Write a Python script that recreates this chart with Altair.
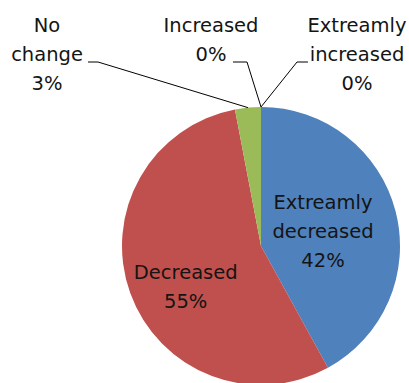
import math
import altair as alt
import numpy as np
import pandas as pd

# ---- data ----
categories = ["Extreamly decreased", "Decreased", "No change", "Increased", "Extreamly increased"]
values = [42, 55, 3, 0, 0]
name_lines = [["Extreamly", "decreased"], ["Decreased"], ["No", "change"], ["Increased"], ["Extreamly", "increased"]]
colors = ["#4F81BD", "#C0504D", "#9BBB59", "#8064A2", "#4BACC6"]

# ---- layout ----
CX, CY, R = 261, 246, 139
FONT = "DejaVu Sans"
FS = 19.5
LH = 29
TEXT_COLOR = "#141414"
inner_layout = {"Extreamly decreased": dict(r=64, dy=-27), "Decreased": dict(r=80, dy=0)}
outer_layout = {
    "No change": dict(lx=47, ly=26, tx=88, ex=98, ey=62),
    "Increased": dict(lx=211, ly=26, tx=233, ex=247, ey=62),
    "Extreamly increased": dict(lx=357, ly=26, tx=308, ex=297, ey=62),
}

total = sum(values)
ends = np.cumsum(values)
starts = ends - np.array(values)
mids = (starts + ends) / 2
labels = ["\n".join(n + [f"{v}%"]) for n, v in zip(name_lines, values)]

df = pd.DataFrame({
    "category": categories, "value": values,
    "start": starts, "end": ends, "mid": mids, "label": labels,
})

theta_scale = alt.Scale(domain=[0, total], range=[0, 2 * math.pi])
color_scale = alt.Scale(domain=categories, range=colors)

base = alt.Chart(df)
pie = base.mark_arc(outerRadius=R).encode(
    theta=alt.Theta("start:Q", scale=theta_scale),
    theta2="end:Q",
    color=alt.Color("category:N", scale=color_scale, legend=None),
    x=alt.value(CX), y=alt.value(CY),
)

layers = [pie]
for cat, lay in inner_layout.items():
    layers.append(
        base.transform_filter(alt.datum.category == cat)
        .mark_text(radius=lay["r"], dy=lay["dy"], font=FONT, fontSize=FS, lineBreak="\n",
                   lineHeight=LH, color=TEXT_COLOR, align="center", baseline="middle")
        .encode(theta=alt.Theta("mid:Q", scale=theta_scale), text="label:N",
                x=alt.value(CX), y=alt.value(CY))
    )

# outside labels & leader lines
rows, segs = [], []
for cat, lay in outer_layout.items():
    i = categories.index(cat)
    ang = 2 * math.pi * mids[i] / total
    px = CX + R * math.sin(ang)
    py = CY - R * math.cos(ang)
    rows.append(dict(label=labels[i], lx=lay["lx"], ly=lay["ly"]))
    segs.append(dict(x=lay["tx"], y=lay["ey"], x2=lay["ex"], y2=lay["ey"]))
    segs.append(dict(x=lay["ex"], y=lay["ey"], x2=px, y2=py))
out_df = pd.DataFrame(rows)
seg_df = pd.DataFrame(segs)

outer_text = alt.Chart(out_df).mark_text(
    font=FONT, fontSize=FS, lineBreak="\n", lineHeight=LH, color=TEXT_COLOR,
    align="center", baseline="middle"
).encode(
    x=alt.X("lx:Q", scale=None), y=alt.Y("ly:Q", scale=None), text="label:N"
)
leaders = alt.Chart(seg_df).mark_rule(color="#000000", strokeWidth=1).encode(
    x=alt.X("x:Q", scale=None), y=alt.Y("y:Q", scale=None),
    x2="x2:Q", y2="y2:Q"
)
layers += [leaders, outer_text]

chart = alt.layer(*layers).resolve_scale(theta="shared").properties(
    width=409, height=383, padding=0, autosize=alt.AutoSizeParams(type="none"),
    background="white"
).configure_view(stroke=None)

chart.save("out.html", embed_options={"renderer": "svg", "actions": False})
